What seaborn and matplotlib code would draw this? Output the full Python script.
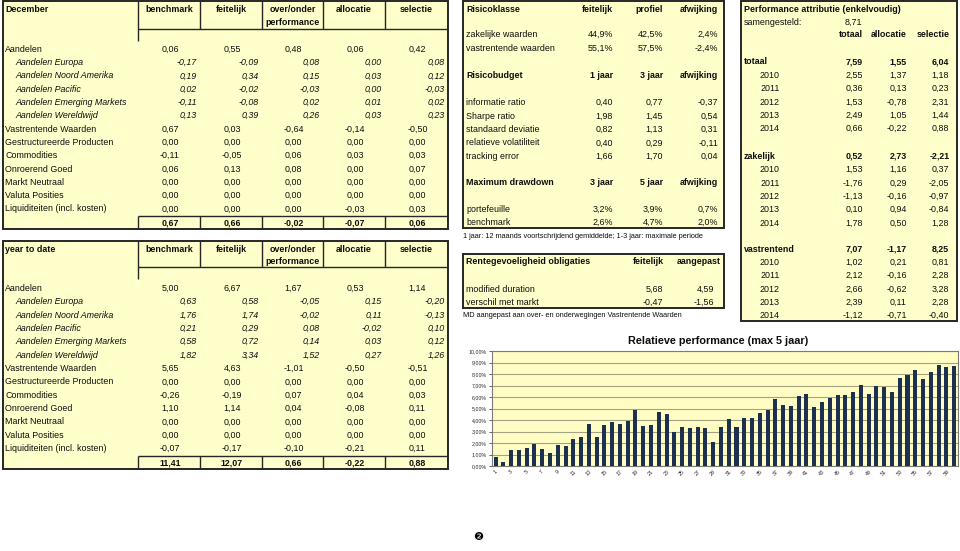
import matplotlib
matplotlib.use("Agg")
import matplotlib.pyplot as plt
import seaborn as sns
import pandas as pd
from matplotlib.patches import Rectangle
from matplotlib.ticker import FuncFormatter, FixedLocator

# ---------------- data ----------------
attr_columns = ["benchmark", "feitelijk", "over/onder\nperformance", "allocatie", "selectie"]
attr_rows = ["Aandelen", "Aandelen Europa", "Aandelen Noord Amerika", "Aandelen Pacific",
             "Aandelen Emerging Markets", "Aandelen Wereldwijd", "Vastrentende Waarden",
             "Gestructureerde Producten", "Commodities", "Onroerend Goed", "Markt Neutraal",
             "Valuta Posities", "Liquiditeiten (incl. kosten)"]
italic_rows = [1, 2, 3, 4, 5]

dec_values = [
    [0.06, 0.55, 0.48, 0.06, 0.42],
    [-0.17, -0.09, 0.08, 0.00, 0.08],
    [0.19, 0.34, 0.15, 0.03, 0.12],
    [0.02, -0.02, -0.03, 0.00, -0.03],
    [-0.11, -0.08, 0.02, 0.01, 0.02],
    [0.13, 0.39, 0.26, 0.03, 0.23],
    [0.67, 0.03, -0.64, -0.14, -0.50],
    [0.00, 0.00, 0.00, 0.00, 0.00],
    [-0.11, -0.05, 0.06, 0.03, 0.03],
    [0.06, 0.13, 0.08, 0.00, 0.07],
    [0.00, 0.00, 0.00, 0.00, 0.00],
    [0.00, 0.00, 0.00, 0.00, 0.00],
    [0.00, 0.00, 0.00, -0.03, 0.03],
]
dec_totals = [0.67, 0.66, -0.02, -0.07, 0.06]

ytd_values = [
    [5.00, 6.67, 1.67, 0.53, 1.14],
    [0.63, 0.58, -0.05, 0.15, -0.20],
    [1.76, 1.74, -0.02, 0.11, -0.13],
    [0.21, 0.29, 0.08, -0.02, 0.10],
    [0.58, 0.72, 0.14, 0.03, 0.12],
    [1.82, 3.34, 1.52, 0.27, 1.26],
    [5.65, 4.63, -1.01, -0.50, -0.51],
    [0.00, 0.00, 0.00, 0.00, 0.00],
    [-0.26, -0.19, 0.07, 0.04, 0.03],
    [1.10, 1.14, 0.04, -0.08, 0.11],
    [0.00, 0.00, 0.00, 0.00, 0.00],
    [0.00, 0.00, 0.00, 0.00, 0.00],
    [-0.07, -0.17, -0.10, -0.21, 0.11],
]
ytd_totals = [11.41, 12.07, 0.66, -0.22, 0.88]

risk_cols = ["feitelijk", "profiel", "afwijking"]
risk_rows = ["zakelijke waarden", "vastrentende waarden"]
risk_vals = [[44.9, 42.5, 2.4], [55.1, 57.5, -2.4]]

budget_cols = ["1 jaar", "3 jaar", "afwijking"]
budget_rows = ["informatie ratio", "Sharpe ratio", "standaard deviatie",
               "relatieve volatiliteit", "tracking error"]
budget_vals = [[0.40, 0.77, -0.37], [1.98, 1.45, 0.54], [0.82, 1.13, 0.31],
               [0.40, 0.29, -0.11], [1.66, 1.70, 0.04]]

dd_cols = ["3 jaar", "5 jaar", "afwijking"]
dd_rows = ["portefeuille", "benchmark"]
dd_vals = [[3.2, 3.9, 0.7], [2.6, 4.7, 2.0]]

rente_cols = ["feitelijk", "aangepast"]
rente_rows = ["modified duration", "verschil met markt"]
rente_vals = [[5.68, 4.59], [-0.47, -1.56]]

samengesteld = 8.71
pa_cols = ["totaal", "allocatie", "selectie"]
pa_groups = ["totaal", "zakelijk", "vastrentend"]
pa_group_vals = [[7.59, 1.55, 6.04], [0.52, 2.73, -2.21], [7.07, -1.17, 8.25]]
pa_years = ["2010", "2011", "2012", "2013", "2014"]
pa_year_vals = [
    [[2.55, 1.37, 1.18], [0.36, 0.13, 0.23], [1.53, -0.78, 2.31], [2.49, 1.05, 1.44], [0.66, -0.22, 0.88]],
    [[1.53, 1.16, 0.37], [-1.76, 0.29, -2.05], [-1.13, -0.16, -0.97], [0.10, 0.94, -0.84], [1.78, 0.50, 1.28]],
    [[1.02, 0.21, 0.81], [2.12, -0.16, 2.28], [2.66, -0.62, 3.28], [2.39, 0.11, 2.28], [-1.12, -0.71, -0.40]],
]

months = list(range(1, 61))
rel_perf = [0.78, 0.38, 1.39, 1.36, 1.54, 1.91, 1.48, 1.16, 1.83, 1.77,
            2.35, 2.55, 3.62, 2.55, 3.54, 3.83, 3.62, 3.94, 4.90, 3.45,
            3.54, 4.67, 4.49, 2.96, 3.36, 3.30, 3.36, 3.30, 2.09, 3.36,
            4.06, 3.42, 4.14, 4.20, 4.61, 4.84, 5.80, 5.28, 5.22, 6.06,
            6.29, 5.16, 5.54, 5.91, 6.14, 6.14, 6.43, 7.07, 6.23, 6.99,
            6.84, 6.43, 7.62, 7.91, 8.35, 7.59, 8.20, 8.78, 8.64, 8.67]

# ---------------- style ----------------
sns.set_theme(style="white")
plt.rcParams['font.family'] = ['Liberation Sans', 'DejaVu Sans']

W, H = 960, 551
fig = plt.figure(figsize=(9.6, 5.51), dpi=100)
fig.patch.set_facecolor('white')
bg = fig.add_axes([0, 0, 1, 1])
bg.set_xlim(0, W)
bg.set_ylim(H, 0)
bg.axis('off')

FILL = '#FFFFCC'
EDGE = '#262626'
FS = 6.4
TXT = '#0d0d0d'


def fmt(v, nd=2):
    return f"{v:.{nd}f}".replace('.', ',')


def pct(v):
    return f"{v:.1f}%".replace('.', ',')


def box(x0, y0, x1, y1):
    bg.add_patch(Rectangle((x0, y0), x1 - x0, y1 - y0, facecolor=FILL,
                           edgecolor=EDGE, lw=1.4, zorder=1))


def hline(y, x0, x1, lw=1.0):
    bg.plot([x0, x1], [y, y], color=EDGE, lw=lw, zorder=2, solid_capstyle='butt')


def vline(x, y0, y1, lw=1.0):
    bg.plot([x, x], [y0, y1], color=EDGE, lw=lw, zorder=2, solid_capstyle='butt')


def txt(x, y, s, ha='left', bold=False, italic=False, size=FS):
    bg.text(x, y, s, ha=ha, va='center', fontsize=size, color=TXT,
            fontweight='bold' if bold else 'normal',
            style='italic' if italic else 'normal', zorder=3)


# ---------------- attribution tables (left) ----------------
col_edges = [138, 200, 262, 323, 385, 448]


def attr_table(y0, head_y1, head_y2, head_bot, row_y0, step, tot_top, tot_y, y1, title, vals, tots):
    box(3, y0, 448, y1)
    for x in col_edges[1:-1]:
        vline(x, y0, head_bot)
        vline(x, tot_top, y1)
    vline(col_edges[0], y0, head_bot + 12)
    vline(col_edges[0], tot_top, y1)
    hline(head_bot, col_edges[0], 448)
    hline(tot_top, col_edges[0], 448)
    txt(5, head_y1, title, bold=True)
    for i, c in enumerate(attr_columns):
        cx = (col_edges[i] + col_edges[i + 1]) / 2
        parts = c.split('\n')
        txt(cx, head_y1, parts[0], ha='center', bold=True)
        if len(parts) > 1:
            txt(cx, head_y2, parts[1], ha='center', bold=True)
    for r, lab in enumerate(attr_rows):
        y = row_y0 + r * step
        it = r in italic_rows
        txt(15 if it else 5, y, lab, italic=it)
        for i, v in enumerate(vals[r]):
            if it:
                txt(col_edges[i + 1] - 3, y, fmt(v), ha='right', italic=True)
            else:
                cx = (col_edges[i] + col_edges[i + 1]) / 2
                txt(cx + 1, y, fmt(v), ha='center')
    for i, v in enumerate(tots):
        cx = (col_edges[i] + col_edges[i + 1]) / 2
        txt(cx + 1, tot_y, fmt(v), ha='center', bold=True)


attr_table(1, 9.3, 22.7, 29.3, 49.3, 13.3, 215.7, 222.7, 229, "December", dec_values, dec_totals)
attr_table(241, 249.7, 262.0, 267, 288.3, 13.37, 456, 462.7, 469, "year to date", ytd_values, ytd_totals)

# ---------------- risk tables (middle) ----------------
mx = [613, 663, 718]
box(463, 1, 724, 228.3)
txt(466, 9.3, "Risicoklasse", bold=True)
for i, c in enumerate(risk_cols):
    txt(mx[i], 9.3, c, ha='right', bold=True)
for r, lab in enumerate(risk_rows):
    y = 34.7 + r * 13.6
    txt(466, y, lab)
    for i, v in enumerate(risk_vals[r]):
        txt(mx[i], y, pct(v), ha='right')

txt(466, 75.3, "Risicobudget", bold=True)
for i, c in enumerate(budget_cols):
    txt(mx[i], 75.3, c, ha='right', bold=True)
for r, lab in enumerate(budget_rows):
    y = 102.7 + r * 13.4
    txt(466, y, lab)
    for i, v in enumerate(budget_vals[r]):
        txt(mx[i], y, fmt(v), ha='right')

txt(466, 182.3, "Maximum drawdown", bold=True)
for i, c in enumerate(dd_cols):
    txt(mx[i], 182.3, c, ha='right', bold=True)
for r, lab in enumerate(dd_rows):
    y = 209 + r * 13.4
    txt(466, y, lab)
    for i, v in enumerate(dd_vals[r]):
        txt(mx[i], y, pct(v), ha='right')

txt(463, 236.5, "1 jaar: 12 maands voortschrijdend gemiddelde; 1-3 jaar: maximale periode", size=5.3)

box(463, 254.3, 724, 308.3)
txt(466, 261.7, "Rentegevoeligheid obligaties", bold=True)
rx_head = [664, 721]
rx_val = [663, 714]
for i, c in enumerate(rente_cols):
    txt(rx_head[i], 261.7, c, ha='right', bold=True)
for r, lab in enumerate(rente_rows):
    y = 289 + r * 13.3
    txt(466, y, lab)
    for i, v in enumerate(rente_vals[r]):
        txt(rx_val[i], y, fmt(v), ha='right')
txt(463, 315.7, "MD aangepast aan over- en onderwegingen Vastrentende Waarden", size=5.3)

# ---------------- performance attribution (right) ----------------
px = [862.7, 906.7, 949.3]
box(741, 1, 957, 320.7)
txt(744, 9.3, "Performance attributie (enkelvoudig)", bold=True)
txt(744, 22.7, "samengesteld:")
txt(px[0] - 1, 22.7, fmt(samengesteld), ha='right')
for i, c in enumerate(pa_cols):
    txt(px[i], 34.7, c, ha='right', bold=True)
group_y = [62.0, 156.3, 249.0]
for g, lab in enumerate(pa_groups):
    y = group_y[g]
    txt(744, y, lab, bold=True)
    for i, v in enumerate(pa_group_vals[g]):
        txt(px[i], y, fmt(v), ha='right', bold=True)
    for k, yr in enumerate(pa_years):
        yy = y + (k + 1) * 13.35
        txt(780, yy, yr, ha='right')
        for i, v in enumerate(pa_year_vals[g][k]):
            txt(px[i], yy, fmt(v), ha='right')

# ---------------- bar chart ----------------
x0, x1, y_top, y_bot = 491.7, 958, 351, 466
ax = fig.add_axes([x0 / W, 1 - y_bot / H, (x1 - x0) / W, (y_bot - y_top) / H])
df = pd.DataFrame({"maand": months, "perf": rel_perf})
sns.barplot(data=df, x="maand", y="perf", color="#1C3150", saturation=1,
            width=0.52, linewidth=0, ax=ax, zorder=3)
ax.set_facecolor('#FFFDC4')
ax.set_ylim(0, 10)
ax.set_xlim(-0.5, len(months) - 0.5)
ax.yaxis.set_major_locator(FixedLocator(range(0, 11)))
ax.yaxis.set_major_formatter(FuncFormatter(lambda v, p: f"{v:.2f}%".replace('.', ',')))
ax.grid(axis='y', color='#A3A382', lw=0.8, zorder=0)
ax.set_axisbelow(True)
ax.set_xticks(range(len(months)))
ax.set_xticklabels([str(m) if m % 2 == 1 else '' for m in months], rotation=45,
                   ha='center', fontsize=3.8)
ax.tick_params(axis='y', labelsize=3.8, length=2, pad=1.5, left=True, width=0.5)
ax.tick_params(axis='x', length=0, pad=2)
ax.set_xlabel('')
ax.set_ylabel('')
for s in ax.spines.values():
    s.set_color('#7a7a7a')
    s.set_linewidth(0.8)

bg.text(718, 340.7, "Relatieve performance (max 5 jaar)", ha='center', va='center',
        fontsize=7.8, fontweight='bold', color=TXT)

bg.text(478, 537, "\u2777", ha='center', va='center', fontsize=8,
        family=['DejaVu Sans'], color='black')

fig.savefig("out.png", dpi=100, facecolor='white')
